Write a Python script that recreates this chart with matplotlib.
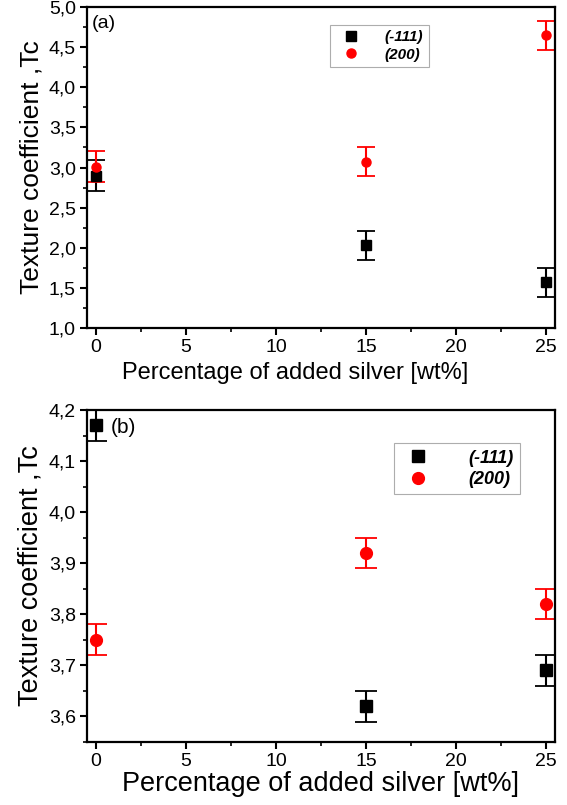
import numpy as np
import matplotlib.pyplot as plt
from matplotlib.ticker import MultipleLocator, FuncFormatter
from matplotlib.lines import Line2D

plt.rcParams['font.family'] = ['Liberation Sans', 'DejaVu Sans']

# ---------------------------------------------------------
# datos
# ---------------------------------------------------------
plata = [0, 15, 25]  # wt%

# (a)
tc_111_a = [2.90, 2.03, 1.57]
err_111_a = [0.19, 0.18, 0.18]
tc_200_a = [3.01, 3.07, 4.65]
err_200_a = [0.19, 0.18, 0.18]

# (b)
tc_111_b = [4.17, 3.62, 3.69]
err_111_b = [0.03, 0.03, 0.03]
tc_200_b = [3.75, 3.92, 3.82]
err_200_b = [0.03, 0.03, 0.03]

etiquetas = ['(-111)', '(200)']

coma = FuncFormatter(lambda v, p: ('%.1f' % v).replace('.', ','))

fig = plt.figure(figsize=(5.67, 8.05), dpi=100)
ax1 = fig.add_axes([0.1534, 0.5925, 0.8254, 0.3988])
ax2 = fig.add_axes([0.1534, 0.0783, 0.8254, 0.4124])


def panel(ax, y1, e1, y2, e2, ms, cap, xlab, ylab):
    ax.errorbar(plata, y1, yerr=e1, fmt='s', color='black', ms=ms,
                elinewidth=1.5, capsize=cap, capthick=1.3)
    ax.errorbar(plata, y2, yerr=e2, fmt='o', color='red', ms=ms,
                elinewidth=1.5, capsize=cap, capthick=1.3)
    ax.set_xlim(-0.5, 25.5)
    ax.xaxis.set_major_locator(MultipleLocator(5))
    ax.xaxis.set_minor_locator(MultipleLocator(2.5))
    ax.yaxis.set_major_formatter(coma)
    for s in ax.spines.values():
        s.set_linewidth(1.6)
    ax.tick_params(which='major', length=5, width=1.5, labelsize=14, direction='out', pad=3)
    ax.tick_params(which='minor', length=3, width=1.2, direction='out')
    ax.set_xlabel('Percentage of added silver [wt%]', fontsize=xlab, labelpad=1)
    ax.set_ylabel('Texture coefficient ,Tc', fontsize=ylab, labelpad=4)


def leyenda(ax, ms, size, anchor, pad):
    h = [Line2D([], [], ls='none', marker='s', color='black', ms=ms),
         Line2D([], [], ls='none', marker='o', color='red', ms=ms)]
    leg = ax.legend(h, etiquetas, loc='upper left', bbox_to_anchor=anchor,
                    prop={'style': 'italic', 'weight': 'bold', 'size': size},
                    fancybox=False, edgecolor='#999999', handletextpad=pad,
                    borderpad=0.35, labelspacing=0.25, borderaxespad=0)
    leg.get_frame().set_linewidth(0.8)


# ---------------------------------------------------------
# panel (a)
# ---------------------------------------------------------
panel(ax1, tc_111_a, err_111_a, tc_200_a, err_200_a, 6.5, 6.5, 17, 19)
ax1.set_ylim(1.0, 5.0)
ax1.yaxis.set_major_locator(MultipleLocator(0.5))
ax1.yaxis.set_minor_locator(MultipleLocator(0.25))
ax1.xaxis.set_label_coords(0.445, -0.105)
ax1.text(0.01, 0.975, '(a)', transform=ax1.transAxes, fontsize=14, va='top')
leyenda(ax1, 6.5, 11, (0.52, 0.945), 1.2)

# ---------------------------------------------------------
# panel (b)
# ---------------------------------------------------------
panel(ax2, tc_111_b, err_111_b, tc_200_b, err_200_b, 8.5, 8, 19.5, 19.5)
ax2.set_ylim(3.55, 4.2)
ax2.yaxis.set_major_locator(MultipleLocator(0.1))
ax2.yaxis.set_minor_locator(MultipleLocator(0.05))
ax2.text(0.05, 0.975, '(b)', transform=ax2.transAxes, fontsize=15, va='top')
leyenda(ax2, 8.5, 13, (0.655, 0.90), 1.8)

plt.savefig('out.png', dpi=100)
